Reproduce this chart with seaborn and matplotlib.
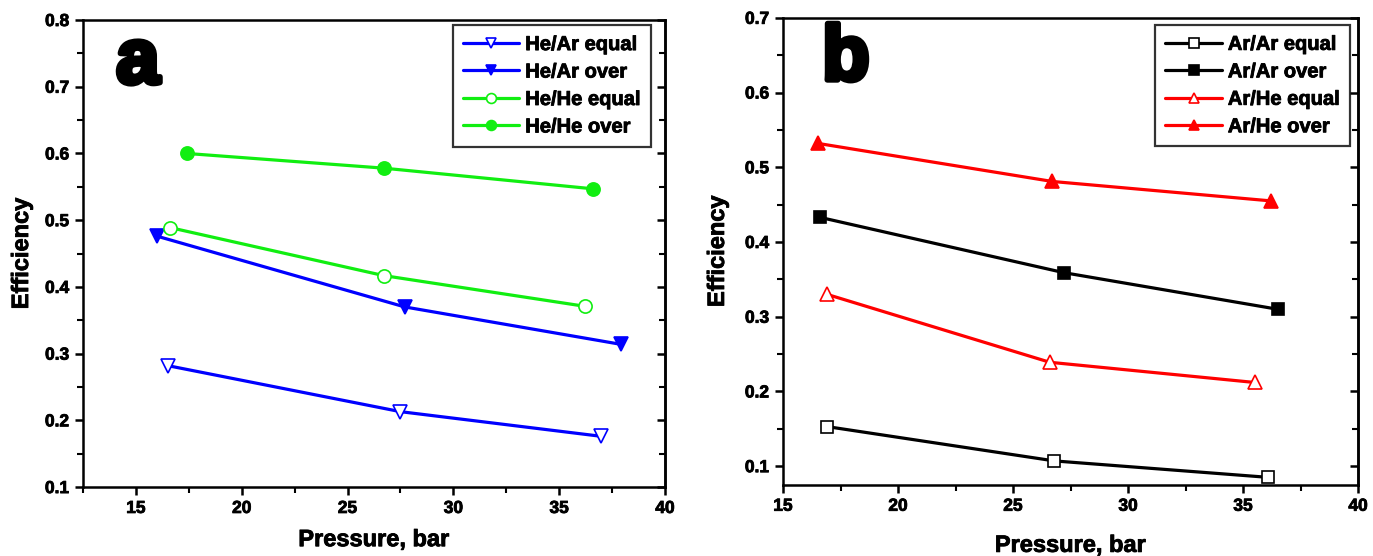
import matplotlib
matplotlib.use("Agg")
import matplotlib.pyplot as plt
from matplotlib.ticker import MultipleLocator, FuncFormatter
import matplotlib.patheffects as pe
import seaborn as sns
import pandas as pd

# ---- data (panel a) ----
he_ar_equal_p = [16.5, 27.5, 37.0]
he_ar_equal_e = [0.282, 0.213, 0.176]
he_ar_over_p = [16.0, 27.7, 37.9]
he_ar_over_e = [0.476, 0.370, 0.314]
he_he_equal_p = [16.6, 26.7, 36.2]
he_he_equal_e = [0.489, 0.417, 0.371]
he_he_over_p = [17.4, 26.7, 36.6]
he_he_over_e = [0.600, 0.578, 0.547]

# ---- data (panel b) ----
ar_ar_equal_p = [16.9, 26.8, 36.1]
ar_ar_equal_e = [0.153, 0.107, 0.085]
ar_ar_over_p = [16.6, 27.2, 36.5]
ar_ar_over_e = [0.433, 0.359, 0.310]
ar_he_equal_p = [16.9, 26.6, 35.5]
ar_he_equal_e = [0.330, 0.239, 0.212]
ar_he_over_p = [16.5, 26.7, 36.2]
ar_he_over_e = [0.532, 0.481, 0.455]

labels_a = ["He/Ar equal", "He/Ar over", "He/He equal", "He/He over"]
labels_b = ["Ar/Ar equal", "Ar/Ar over", "Ar/He equal", "Ar/He over"]

BLUE = "#0000ff"
GREEN = "#11ee11"
BLACK = "#000000"
RED = "#ff0000"

sns.set_style("ticks")
plt.rcParams["font.family"] = ["Liberation Sans", "DejaVu Sans"]
plt.rcParams["font.weight"] = "bold"
plt.rcParams["axes.labelweight"] = "bold"
for k in ["text.color", "axes.labelcolor", "xtick.color", "ytick.color", "axes.edgecolor"]:
    plt.rcParams[k] = "black"

fig = plt.figure(figsize=(13.73, 5.56), dpi=100)
axA = fig.add_axes([0.0605, 0.124, 0.4238, 0.840])
axB = fig.add_axes([0.5703, 0.128, 0.4188, 0.840])

def draw(ax, p, e, color, marker, filled, label, ms):
    df = pd.DataFrame({"p": p, "e": e})
    sns.lineplot(data=df, x="p", y="e", ax=ax, color=color, linewidth=2.3,
                 marker=marker, markersize=ms,
                 markerfacecolor=color if filled else "white",
                 markeredgecolor=color, markeredgewidth=1.2,
                 label=label, sort=False, estimator=None)

draw(axA, he_ar_equal_p, he_ar_equal_e, BLUE, "v", False, labels_a[0], 10)
draw(axA, he_ar_over_p, he_ar_over_e, BLUE, "v", True, labels_a[1], 10)
draw(axA, he_he_equal_p, he_he_equal_e, GREEN, "o", False, labels_a[2], 9.5)
draw(axA, he_he_over_p, he_he_over_e, GREEN, "o", True, labels_a[3], 9.5)

draw(axB, ar_ar_equal_p, ar_ar_equal_e, BLACK, "s", False, labels_b[0], 9)
draw(axB, ar_ar_over_p, ar_ar_over_e, BLACK, "s", True, labels_b[1], 9)
draw(axB, ar_he_equal_p, ar_he_equal_e, RED, "^", False, labels_b[2], 10.5)
draw(axB, ar_he_over_p, ar_he_over_e, RED, "^", True, labels_b[3], 10.5)

bold_fx = [pe.withStroke(linewidth=0.6, foreground="black")]

def style(ax, xlim, ylim, letter, lx, ly, ylab_x, xlab_y, leg_anchor):
    ax.set_xlim(*xlim)
    ax.set_ylim(*ylim)
    ax.xaxis.set_major_locator(MultipleLocator(5))
    ax.xaxis.set_minor_locator(MultipleLocator(2.5))
    ax.yaxis.set_major_locator(MultipleLocator(0.1))
    ax.yaxis.set_minor_locator(MultipleLocator(0.05))
    ax.yaxis.set_major_formatter(FuncFormatter(lambda v, _: f"{v:.1f}"))
    for s in ax.spines.values():
        s.set_linewidth(1.8)
        s.set_color("black")
    ax.tick_params(axis="both", which="major", direction="out", length=6, width=1.8,
                   labelsize=12.5, pad=4, colors="black")
    ax.tick_params(axis="both", which="minor", direction="out", length=4, width=1.5)
    sec = ax.secondary_yaxis("right")
    sec.yaxis.set_major_locator(MultipleLocator(0.1))
    sec.yaxis.set_minor_locator(MultipleLocator(0.05))
    sec.tick_params(which="major", direction="in", length=6, width=1.8, labelright=False)
    sec.tick_params(which="minor", direction="in", length=4, width=1.5)
    sec.spines["right"].set_linewidth(1.8)
    for t in ax.get_xticklabels() + ax.get_yticklabels():
        t.set_fontweight("bold")
        t.set_path_effects(bold_fx)
    ax.set_xlabel("Pressure, bar", fontsize=17, fontweight="bold")
    ax.set_ylabel("Efficiency", fontsize=17, fontweight="bold")
    ax.xaxis.label.set_path_effects(bold_fx)
    ax.yaxis.label.set_path_effects(bold_fx)
    ax.xaxis.set_label_coords(0.5, xlab_y)
    ax.yaxis.set_label_coords(ylab_x, 0.5)
    ax.text(lx, ly, letter, transform=ax.transAxes, fontsize=56, fontweight="heavy",
            ha="left", va="baseline",
            path_effects=[pe.withStroke(linewidth=4, foreground="black")])
    leg = ax.legend(loc="upper right", bbox_to_anchor=leg_anchor, fontsize=14.5,
                    frameon=True, fancybox=False, edgecolor="black", handlelength=2.8,
                    handletextpad=0.3, labelspacing=0.42, borderpad=0.5,
                    markerscale=0.75, borderaxespad=0)
    leg.get_frame().set_linewidth(1.6)
    for t in leg.get_texts():
        t.set_fontweight("bold")
        t.set_path_effects(bold_fx)

style(axA, (12.5, 40), (0.1, 0.8), "a", 0.057, 0.865, -0.086, -0.088,
      (1 - 14 / 582, 1 - 5 / 467))
style(axB, (15, 40), (0.075, 0.7), "b", 0.068, 0.867, -0.094, -0.105,
      (1 - 8 / 575, 1 - 7 / 467))

fig.savefig("out.png", dpi=100)
